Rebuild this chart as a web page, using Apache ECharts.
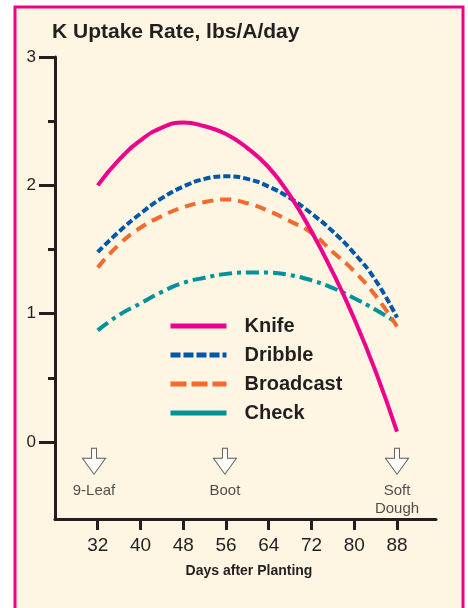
<!DOCTYPE html>
<html>
<head>
<meta charset="utf-8">
<script src="https://cdn.jsdelivr.net/npm/echarts@6/dist/echarts.min.js"></script>
<style>
  html, body { margin: 0; padding: 0; background: #ffffff; }
  #main { width: 468px; height: 608px; }
</style>
</head>
<body>
<div id="main"></div>
<script>
// days after planting
var days = [32, 36, 40, 44, 48, 52, 56, 60, 64, 68, 72, 76, 80, 84, 88];
// K uptake rate, lbs/A/day
var knife     = [2.00, 2.20, 2.35, 2.45, 2.49, 2.46, 2.40, 2.29, 2.14, 1.92, 1.64, 1.32, 0.96, 0.55, 0.08];
var dribble   = [1.48, 1.64, 1.78, 1.90, 1.99, 2.05, 2.07, 2.05, 1.99, 1.90, 1.78, 1.64, 1.47, 1.26, 0.97];
var broadcast = [1.36, 1.54, 1.67, 1.76, 1.83, 1.87, 1.89, 1.86, 1.80, 1.72, 1.63, 1.48, 1.33, 1.14, 0.90];
var check     = [0.87, 0.99, 1.08, 1.17, 1.24, 1.28, 1.31, 1.32, 1.32, 1.30, 1.26, 1.20, 1.12, 1.03, 0.93];

var xTicks = [32, 40, 48, 56, 64, 72, 80, 88];
var yTicks = [0, 1, 2, 3];
var yMinorTicks = [0.5, 1.5, 2.5];

// growth stages
var stageDays = [31.3, 55.8, 88];
var stageNames = ['9-Leaf', 'Boot', 'Soft\nDough'];
var stageY = -0.15;

var FONT = '"Liberation Sans", Arial, sans-serif';
var INK = '#231F20';

function pairs(vals) {
  return days.map(function (d, i) { return [d, vals[i]]; });
}

var myChart = echarts.init(document.getElementById('main'));
var option = {
  backgroundColor: '#ffffff',
  textStyle: { fontFamily: FONT, color: INK },
  title: {
    text: 'K Uptake Rate, lbs/A/day',
    left: 52,
    top: 22,
    padding: 0,
    textStyle: { fontFamily: FONT, fontSize: 21, fontWeight: 'bold', color: INK }
  },
  graphic: [{
    type: 'rect',
    z: -10,
    shape: { x: 15, y: 7, width: 448, height: 640 },
    style: { fill: '#FEF5E2', stroke: '#EC008C', lineWidth: 3 }
  }],
  legend: {
    orient: 'vertical',
    left: 168,
    top: 316,
    padding: 0,
    itemWidth: 56,
    itemHeight: 14,
    itemGap: 9,
    lineStyle: { width: 5 },
    itemStyle: { opacity: 0 },
    textStyle: { fontFamily: FONT, fontSize: 20, fontWeight: 'bold', color: INK, padding: [0, 0, 0, 13] },
    data: [
      { name: 'Knife' },
      { name: 'Dribble', lineStyle: { type: [10, 3] } },
      { name: 'Broadcast', lineStyle: { type: [16, 5] } },
      { name: 'Check', lineStyle: { type: 'solid' } }
    ]
  },
  grid: { left: 55, right: 32, top: 57, bottom: 89 },
  xAxis: {
    type: 'value',
    min: 24,
    max: 95.3,
    name: 'Days after Planting',
    nameLocation: 'middle',
    nameGap: 45,
    nameTextStyle: { fontFamily: FONT, fontSize: 14, fontWeight: 'bold', color: INK, padding: [0, 0, 0, 7] },
    axisLine: { onZero: false, lineStyle: { color: INK, width: 3 } },
    axisTick: { customValues: xTicks, length: 11, lineStyle: { color: INK, width: 3 } },
    axisLabel: { customValues: xTicks, margin: 17, fontSize: 19, color: INK, fontFamily: FONT },
    splitLine: { show: false }
  },
  yAxis: [{
    type: 'value',
    min: -0.6,
    max: 3,
    axisLine: { show: true, onZero: false, lineStyle: { color: INK, width: 3 } },
    axisTick: { customValues: yTicks, length: 16, lineStyle: { color: INK, width: 3 } },
    axisLabel: { customValues: yTicks, margin: 19, fontSize: 17, color: INK, fontFamily: FONT },
    splitLine: { show: false }
  }, {
    type: 'value',
    position: 'left',
    min: -0.6,
    max: 3,
    axisLine: { show: false, onZero: false },
    axisTick: { show: true, customValues: yMinorTicks, length: 7, lineStyle: { color: INK, width: 3 } },
    axisLabel: { show: false },
    splitLine: { show: false }
  }],
  series: [{
    name: 'Check',
    type: 'line',
    smooth: true,
    symbol: 'none',
    data: pairs(check),
    lineStyle: { color: '#00929A', width: 4, type: [13, 5, 4, 5] },
    itemStyle: { color: '#00929A' }
  }, {
    name: 'Broadcast',
    type: 'line',
    smooth: true,
    symbol: 'none',
    data: pairs(broadcast),
    lineStyle: { color: '#F26A2E', width: 4, type: [11, 7] },
    itemStyle: { color: '#F26A2E' }
  }, {
    name: 'Dribble',
    type: 'line',
    smooth: true,
    symbol: 'none',
    data: pairs(dribble),
    lineStyle: { color: '#0057A8', width: 4, type: [7, 3] },
    itemStyle: { color: '#0057A8' }
  }, {
    name: 'Knife',
    type: 'line',
    smooth: true,
    symbol: 'none',
    data: pairs(knife),
    lineStyle: { color: '#EC008C', width: 4 },
    itemStyle: { color: '#EC008C' }
  }, {
    name: 'stages',
    type: 'scatter',
    symbol: 'path://M9,0 L14,0 L14,10 L23,10 L11.5,26 L0,10 L9,10 Z',
    symbolSize: [23, 26],
    itemStyle: { color: '#ffffff', borderColor: '#333333', borderWidth: 1 },
    label: {
      show: true,
      position: 'bottom',
      distance: 7,
      fontSize: 15,
      lineHeight: 18,
      color: INK,
      fontFamily: FONT,
      formatter: function (p) { return stageNames[p.dataIndex]; }
    },
    silent: true,
    data: stageDays.map(function (d) { return [d, stageY]; })
  }]
};
myChart.setOption(option);
</script>
</body>
</html>
